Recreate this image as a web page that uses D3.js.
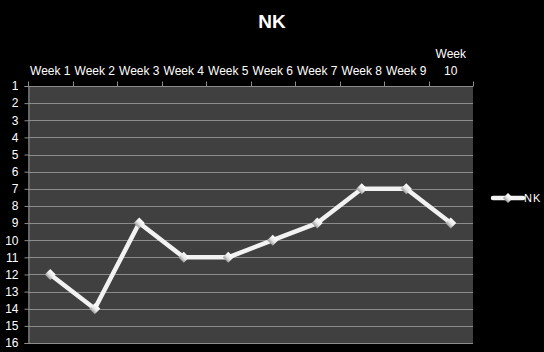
<!DOCTYPE html>
<html>
<head>
<meta charset="utf-8">
<script src="https://cdn.jsdelivr.net/npm/d3@7"></script>
<style>
  html, body { margin: 0; padding: 0; background: #000; }
  svg { display: block; }
</style>
</head>
<body>
<script>
// 데이터
const weeks = ["Week 1", "Week 2", "Week 3", "Week 4", "Week 5", "Week 6", "Week 7", "Week 8", "Week 9", "Week 10"];
const ranks = [12, 14, 9, 11, 11, 10, 9, 7, 7, 9];
const rankTicks = d3.range(1, 17);
const seriesName = "NK";

const width = 544, height = 352;
const margin = { left: 28, right: 71, top: 86, bottom: 9 };
const font = "'Liberation Sans', Arial, sans-serif";

const svg = d3.select("body").append("svg")
    .attr("width", width)
    .attr("height", height)
    .style("background", "#000");

const defs = svg.append("defs");
const grad = defs.append("linearGradient")
    .attr("id", "diamondFill")
    .attr("x1", 0).attr("y1", 0).attr("x2", 0).attr("y2", 1);
grad.append("stop").attr("offset", "0%").attr("stop-color", "#ffffff");
grad.append("stop").attr("offset", "55%").attr("stop-color", "#e6e6e6");
grad.append("stop").attr("offset", "100%").attr("stop-color", "#9a9a9a");

const x = d3.scaleBand()
    .domain(weeks)
    .range([margin.left, width - margin.right]);

const y = d3.scaleLinear()
    .domain([1, 16])
    .range([margin.top, height - margin.bottom]);

// 플롯 영역
svg.append("rect")
    .attr("x", margin.left)
    .attr("y", margin.top)
    .attr("width", width - margin.left - margin.right)
    .attr("height", height - margin.top - margin.bottom)
    .attr("fill", "#404040");

// 그리드
svg.append("g")
    .selectAll("line")
    .data(rankTicks)
    .enter().append("line")
    .attr("x1", margin.left)
    .attr("x2", width - margin.right)
    .attr("y1", d => Math.round(y(d)) + 0.5)
    .attr("y2", d => Math.round(y(d)) + 0.5)
    .attr("stroke", "#8c8c8c")
    .attr("stroke-width", 1);

// y축 (왼쪽)
const yAxis = svg.append("g")
    .attr("transform", `translate(${margin.left + 0.5},0)`)
    .call(d3.axisLeft(y).tickValues(rankTicks).tickSize(4).tickPadding(6).tickFormat(d3.format("d")));
yAxis.select(".domain").attr("stroke", "#8c8c8c");
yAxis.selectAll(".tick line").attr("stroke", "#8c8c8c");
yAxis.selectAll("text")
    .attr("fill", "#ffffff")
    .style("font", `12px ${font}`);

// x축 (위쪽), 카테고리 경계에 눈금
const xAxis = svg.append("g")
    .attr("transform", `translate(0,${margin.top + 0.5})`);
xAxis.append("line")
    .attr("x1", margin.left)
    .attr("x2", width - margin.right)
    .attr("stroke", "#8c8c8c");
const bounds = weeks.map(w => x(w)).concat([width - margin.right]);
xAxis.selectAll("line.tick")
    .data(bounds)
    .enter().append("line")
    .attr("class", "tick")
    .attr("x1", d => Math.round(d) + 0.5)
    .attr("x2", d => Math.round(d) + 0.5)
    .attr("y1", 0)
    .attr("y2", -5)
    .attr("stroke", "#8c8c8c");

// 레이블이 칸보다 넓으면 두 줄로
xAxis.selectAll("text")
    .data(weeks)
    .enter().append("text")
    .attr("x", d => x(d) + x.bandwidth() / 2)
    .attr("y", -12)
    .attr("text-anchor", "middle")
    .attr("fill", "#ffffff")
    .style("font", `12px ${font}`)
    .text(d => d)
    .each(function(d) {
        const t = d3.select(this);
        if (this.getComputedTextLength() > x.bandwidth() - 1 && d.indexOf(" ") > 0) {
            const parts = d.split(" ");
            const cx = x(d) + x.bandwidth() / 2;
            t.text(null);
            t.append("tspan").attr("x", cx).attr("dy", "-1.35em").text(parts[0]);
            t.append("tspan").attr("x", cx).attr("dy", "1.35em").text(parts.slice(1).join(" "));
        }
    });

// 선
const line = d3.line()
    .x((d, i) => x(weeks[i]) + x.bandwidth() / 2)
    .y(d => y(d));

svg.append("path")
    .datum(ranks)
    .attr("d", line)
    .attr("fill", "none")
    .attr("stroke", "#f2f2f2")
    .attr("stroke-width", 4.5)
    .attr("stroke-linejoin", "round");

svg.append("g")
    .selectAll("path")
    .data(ranks)
    .enter().append("path")
    .attr("d", d3.symbol().type(d3.symbolSquare).size(60))
    .attr("transform", (d, i) => `translate(${x(weeks[i]) + x.bandwidth() / 2},${y(d)}) rotate(45)`)
    .attr("fill", "url(#diamondFill)");

// 범례
const lg = svg.append("g").attr("transform", "translate(493,198)");
lg.append("line")
    .attr("x1", 0).attr("x2", 30)
    .attr("stroke", "#f2f2f2")
    .attr("stroke-width", 4.5)
    .attr("stroke-linecap", "round");
lg.append("path")
    .attr("d", d3.symbol().type(d3.symbolSquare).size(50))
    .attr("transform", "translate(15,0) rotate(45)")
    .attr("fill", "url(#diamondFill)");
lg.append("text")
    .attr("x", 31)
    .attr("y", 4)
    .attr("fill", "#ffffff")
    .style("font", `11px ${font}`)
    .style("letter-spacing", "1px")
    .text(seriesName);

// 제목
svg.append("text")
    .attr("x", 272)
    .attr("y", 28)
    .attr("text-anchor", "middle")
    .attr("fill", "#ffffff")
    .style("font", `bold 19px ${font}`)
    .text(seriesName);
</script>
</body>
</html>
